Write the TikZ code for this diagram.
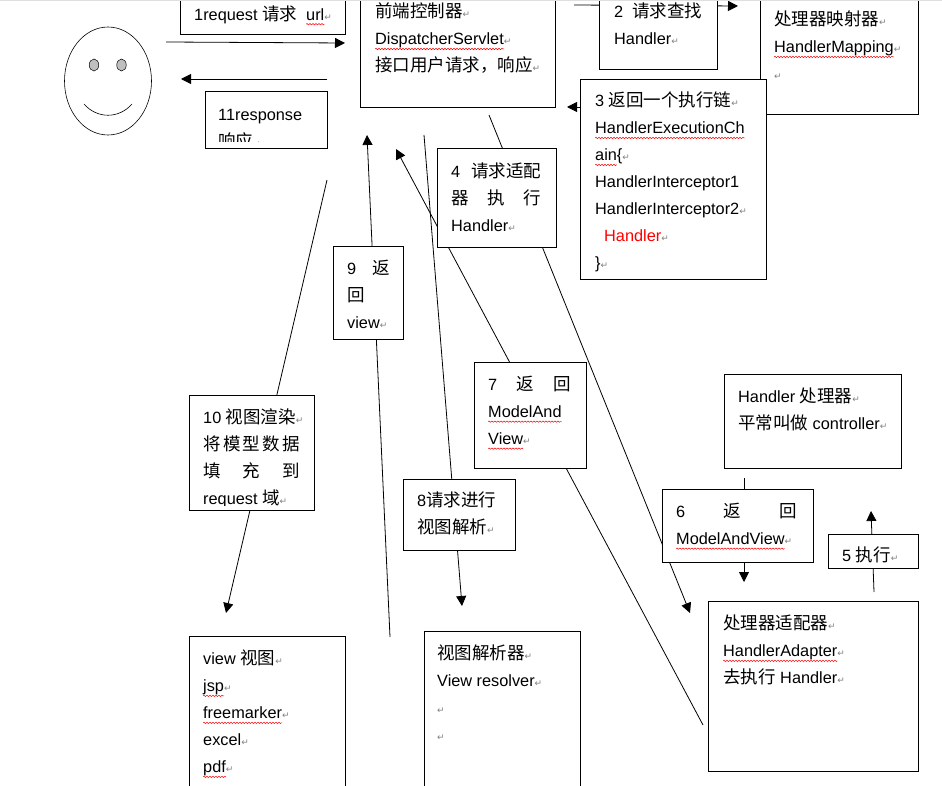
\documentclass[tikz,border=0pt]{standalone}
\usepackage{fontspec}
\usepackage{xcolor}
\setmainfont{Liberation Sans}
\newfontfamily\cjk{Noto Sans CJK SC}
\newfontfamily\symfont{DejaVu Sans}
\usetikzlibrary{shapes.geometric, arrows.meta, decorations.pathmorphing}
\newcommand{\zh}[1]{{\cjk\fontsize{17.5}{27}\selectfont #1}}
\newcommand{\ret}{{\symfont\fontsize{9}{27}\selectfont\textcolor{gray}{↵}}}
\newsavebox{\wavybox}
\newcommand{\wavy}[1]{\sbox{\wavybox}{#1}\rlap{\tikz[overlay,baseline=0pt]\draw[red,line width=.5pt,decorate,decoration={zigzag,amplitude=.7pt,segment length=3pt}] (0pt,-4pt) -- (\wd\wavybox,-4pt);}\usebox{\wavybox}}
\tikzset{
  box/.style={draw, fill=white, line width=.8pt, anchor=north west, inner sep=0pt, outer sep=0pt},
  txt/.style={anchor=north west, align=left, inner sep=0pt, yshift=14pt, font=\fontsize{16.3}{27}\selectfont, execute at begin node={\rule{0pt}{17pt}}},
  tip/.style={line width=.8pt, -{Triangle[length=10pt,width=10pt]}}
}
\begin{document}
\begin{tikzpicture}[x=1pt, y=-1pt]
  \useasboundingbox (0,0) rectangle (942,786);
  \clip (0,0) rectangle (942,786);
  \node[ellipse, draw, line width=.6pt, minimum width=87pt, minimum height=108pt] (Face) at (108,81) {};
  \node[ellipse, draw, line width=.5pt, fill=gray!50, minimum width=9.5pt, minimum height=12pt, inner sep=0pt] (LeftEye) at (94,65) {};
  \node[ellipse, draw, line width=.5pt, fill=gray!50, minimum width=9.5pt, minimum height=12pt, inner sep=0pt] (RightEye) at (121.5,65) {};
  \draw[line width=.6pt] (84,104) .. controls (97,119) and (119,119) .. (132,104);

  \coordinate (UserOut) at (166,42);
  \coordinate (DispIn) at (345,43);
  \coordinate (DispOut) at (327,79);
  \coordinate (UserIn) at (181,79);
  \coordinate (FindOut) at (574,5);
  \coordinate (MapIn) at (738,6);
  \coordinate (MapOut) at (760,107);
  \coordinate (DispBack) at (567,107);
  \coordinate (AdaptStart) at (489,115);
  \coordinate (AdaptIn) at (690,613);
  \coordinate (ExecOut) at (874,592);
  \coordinate (HandlerIn) at (871,511);
  \coordinate (HandlerOut) at (744,478);
  \coordinate (AdaptBack) at (744,582);
  \coordinate (MavOut) at (703,725);
  \coordinate (MavIn) at (396,149);
  \coordinate (ParseStart) at (424,135);
  \coordinate (ResolverIn) at (462,606);
  \coordinate (ViewOut) at (390,637);
  \coordinate (ViewBack) at (367,135);
  \coordinate (RenderStart) at (327,180);
  \coordinate (ViewIn) at (226,613);

  \draw[tip] (UserOut) -- (DispIn);
  \draw[tip] (DispOut) -- (UserIn);
  \draw[tip] (FindOut) -- (MapIn);
  \draw[tip] (MapOut) -- (DispBack);
  \draw[tip] (AdaptStart) -- (AdaptIn);
  \draw[tip] (ExecOut) -- (HandlerIn);
  \draw[tip] (HandlerOut) -- (AdaptBack);
  \draw[tip] (MavOut) -- (MavIn);
  \draw[tip] (ParseStart) -- (ResolverIn);
  \draw[tip] (ViewOut) -- (ViewBack);
  \draw[tip] (RenderStart) -- (ViewIn);

  \node[box, minimum width=165pt, minimum height=54pt] (Request) at (180.5,-20) {};
  \node[txt] (RequestText) at (194,17) {1request \zh{请求}\ \ \wavy{url}\ret};
  \node[box, minimum width=195pt, minimum height=127pt] (Dispatcher) at (360.5,-20) {};
  \node[txt] (DispatcherText) at (375,17) {\zh{前端控制器}\ret\\\wavy{DispatcherServlet}\ret\\\zh{接口用户请求，响应}\ret};
  \node[box, minimum width=117.5pt, minimum height=89pt] (Find) at (599.5,-20) {};
  \node[txt] (FindText) at (614,17) {2\ \ \zh{请求查找}\\Handler\ret};
  \node[box, minimum width=158.5pt, minimum height=134pt] (Mapping) at (760,-20) {};
  \node[txt] (MappingText) at (774,25) {\zh{处理器映射器}\ret\\\wavy{HandlerMapping}\ret\\\ret};
  \node[box, minimum width=186pt, minimum height=200pt] (Chain) at (580.5,79) {};
  \node[txt] (ChainText) at (595,106) {3 \zh{返回一个执行链}\ret\\\wavy{HandlerExecutionCh}\\\wavy{ain}\{\ret\\HandlerInterceptor1\\HandlerInterceptor2\ret\\\hspace{9pt}\textcolor{red}{Handler}\ret\\\}\ret};
  \node[box, minimum width=122pt, minimum height=57pt] (Response) at (205,91) {};
  \begin{scope}
    \clip (205,91) rectangle (327,142);
    \node[txt] (ResponseText) at (218,123.5) {11response\\\zh{响应}\ret};
  \end{scope}
  \node[box, minimum width=119pt, minimum height=99pt] (AdaptReq) at (437,148) {};
  \node[txt] (AdaptReqText) at (451,177) {\hbox to 90pt{4\hfill\zh{请求适配}}\\\hbox to 90pt{\zh{器}\hfill\zh{执}\hfill\zh{行}}\\Handler\ret};
  \node[box, minimum width=70.5pt, minimum height=93pt] (BackNine) at (333,246) {};
  \node[txt] (BackNineText) at (347,274) {\hbox to 43pt{9\hfill\zh{返}}\\\zh{回}\\view\ret};
  \node[box, minimum width=111.5pt, minimum height=106pt] (BackSeven) at (474.5,362) {};
  \node[txt] (BackSevenText) at (488,390) {\hbox to 83pt{7\hfill\zh{返}\hfill\zh{回}}\\\wavy{ModelAnd}\\\wavy{View}\ret};
  \node[box, minimum width=125.5pt, minimum height=115pt] (Render) at (189,395) {};
  \begin{scope}
    \clip (189,395) rectangle (315,505);
    \node[txt] (RenderText) at (203,423) {10 \zh{视图渲染}\ret\\\hbox to 97pt{\zh{将}\hfill\zh{模}\hfill\zh{型}\hfill\zh{数}\hfill\zh{据}}\\\hbox to 97pt{\zh{填}\hfill\zh{充}\hfill\zh{到}}\\request \zh{域}\ret};
  \end{scope}
  \node[box, minimum width=111.5pt, minimum height=71pt] (Parse) at (403.5,479) {};
  \node[txt] (ParseText) at (417,506) {8\zh{请求进行}\\\zh{视图解析}\ret};
  \node[box, minimum width=156pt, minimum height=170pt] (View) at (189,636) {};
  \node[txt] (ViewText) at (203,664) {view \zh{视图}\ret\\\wavy{jsp}\ret\\\wavy{freemarker}\ret\\excel\ret\\\wavy{pdf}\ret};
  \node[box, minimum width=156.5pt, minimum height=175pt] (Resolver) at (424,631) {};
  \node[txt] (ResolverText) at (437,659) {\zh{视图解析器}\ret\\View resolver\ret\\\ret\\\ret};
  \node[box, minimum width=177.5pt, minimum height=94pt] (Handler) at (724,374.5) {};
  \node[txt] (HandlerText) at (738,402) {Handler \zh{处理器}\ret\\\zh{平常叫做} controller\ret};
  \node[box, minimum width=150.5pt, minimum height=73pt] (BackSix) at (662.5,489) {};
  \node[txt] (BackSixText) at (676,517) {\hbox to 121pt{6\hfill\zh{返}\hfill\zh{回}}\\\wavy{ModelAndView}\ret};
  \node[box, minimum width=90.5pt, minimum height=34pt] (Exec) at (828,534) {};
  \node[txt] (ExecText) at (842,558) {5 \zh{执行}\ret};
  \node[box, minimum width=210.5pt, minimum height=170pt] (Adapter) at (708,601) {};
  \node[txt] (AdapterText) at (723,629) {\zh{处理器适配器}\ret\\\wavy{HandlerAdapter}\ret\\\zh{去执行} Handler\ret};
  \fill[gray!25] (0,0) rectangle (942,1);
\end{tikzpicture}
\end{document}
